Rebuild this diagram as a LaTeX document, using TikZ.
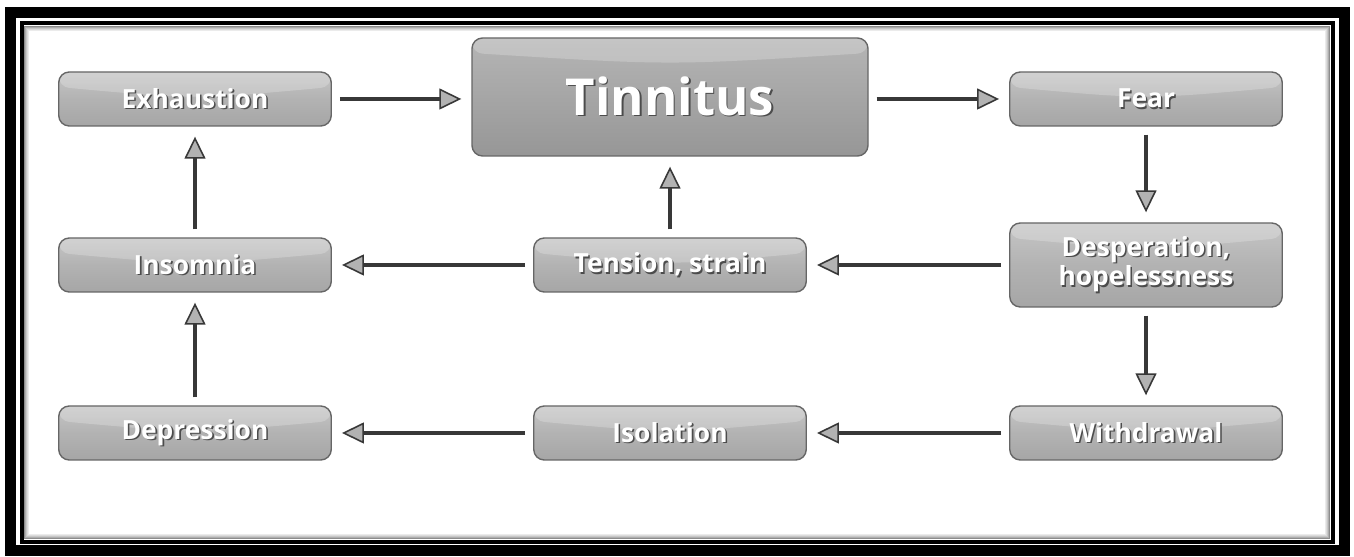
\documentclass[tikz,border=0pt]{standalone}
\usepackage{fontspec}
\setmainfont{Open Sans}
\usetikzlibrary{arrows.meta}

\newcommand{\glowtext}[1]{\makebox[0pt][l]{\hspace{0.9pt}\raisebox{-0.9pt}{\textcolor{black!70}{#1}}}#1}

\tikzset{
    stage/.style={draw=gray!80!black, line width=0.8pt, rounded corners=6pt,
        top color=gray!45, bottom color=gray!70, middle color=gray!60,
        minimum width=5.45cm, minimum height=1.08cm, inner sep=0pt,
        align=center, text=white, font=\bfseries\fontsize{15}{17}\selectfont,
        path picture={
            \fill[white, opacity=0.22] (path picture bounding box.north west) -- (path picture bounding box.north east)
                -- ([yshift=-0.3cm]path picture bounding box.north east)
                .. controls ([yshift=-0.55cm]path picture bounding box.north) .. ([yshift=-0.3cm]path picture bounding box.north west) -- cycle;
        }},
    bigstage/.style={stage, top color=gray!58, middle color=gray!74, bottom color=gray!82,
        minimum width=7.92cm, minimum height=2.36cm, font=\bfseries\fontsize{29}{34}\selectfont},
    flow/.style={draw=black!78, line width=2.2pt, shorten <=0.16cm, shorten >=0.2cm,
        -{Triangle[length=4.4mm, width=4.2mm, fill=gray!60, line width=0.9pt]}},
}

\begin{document}
\begin{tikzpicture}[x=0.2mm, y=-0.2mm]
    \useasboundingbox (0,0) rectangle (1354,557);

    % the frame
    \draw[line width=11*0.2mm] (10.5,12.5) rectangle (1344,551);
    \draw[line width=4*0.2mm] (21.5,23.5) rectangle (1332.5,542);
    \foreach \k/\c in {1/45,2/32,3/22,4/14,5/8} {
        \draw[line width=0.2mm, black!\c] ({23.5+\k},{25.5+\k}) rectangle ({1330.5-\k},{540-\k});
    };

    % the stages
    \node[bigstage] (tinnitus) at (670,97) {\glowtext{Tinnitus}};
    \node[stage] (exhaustion) at (195,99) {\glowtext{Exhaustion}};
    \node[stage] (fear) at (1146,99) {\glowtext{Fear}};
    \node[stage] (insomnia) at (195,265) {\glowtext{Insomnia}};
    \node[stage] (tension) at (670,265) {\glowtext{Tension, strain}};
    \node[stage, minimum height=1.68cm] (desperation) at (1146,265) {\glowtext{Desperation,}\\\glowtext{hopelessness}};
    \node[stage] (depression) at (195,433) {\glowtext{Depression}};
    \node[stage] (isolation) at (670,433) {\glowtext{Isolation}};
    \node[stage] (withdrawal) at (1146,433) {\glowtext{Withdrawal}};

    % arrows
    \draw[flow] (exhaustion) -- (tinnitus.west |- exhaustion);
    \draw[flow] (tinnitus.east |- fear) -- (fear);
    \draw[flow] (fear) -- (desperation);
    \draw[flow] (desperation) -- (withdrawal);
    \draw[flow] (desperation) -- (tension);
    \draw[flow] (tension) -- (insomnia);
    \draw[flow] (tension) -- (tinnitus);
    \draw[flow] (withdrawal) -- (isolation);
    \draw[flow] (isolation) -- (depression);
    \draw[flow] (depression) -- (insomnia);
    \draw[flow] (insomnia) -- (exhaustion);

\end{tikzpicture}
\end{document}
